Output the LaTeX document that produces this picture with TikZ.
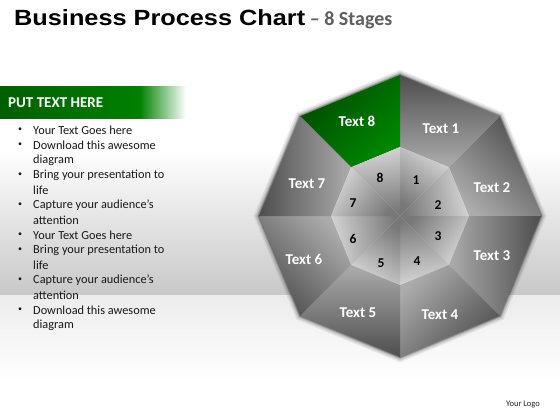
\documentclass[tikz,border=0pt]{standalone}
\usepackage{fontspec}
\setmainfont{Carlito}
\newfontfamily\arialfont{Liberation Sans}
\usepackage{graphicx}
\definecolor{gdark}{RGB}{78,78,78}
\definecolor{glight}{RGB}{172,172,172}
\definecolor{idark}{RGB}{120,120,120}
\definecolor{ilight}{RGB}{215,215,215}
\definecolor{grdark}{RGB}{0,75,0}
\definecolor{grlight}{RGB}{0,135,0}
\definecolor{bandgray}{RGB}{200,200,200}
\definecolor{floorgray}{RGB}{236,236,236}
\definecolor{bandark}{RGB}{0,95,0}
\definecolor{banlight}{RGB}{0,128,0}
\definecolor{subgray}{RGB}{95,95,95}
\tikzset{
  seclabel/.style={font=\bfseries\fontsize{15}{17}\selectfont, text=white, inner sep=0pt},
  numlabel/.style={font=\bfseries\fontsize{13.5}{15}\selectfont, text=black, inner sep=0pt},
  bodytext/.style={font=\fontsize{12.3}{14}\selectfont, anchor=west, inner sep=0pt, text=black!90},
  bulletmark/.style={font=\fontsize{8}{10}\selectfont, anchor=center, inner sep=0pt, text=black!90}
}
\begin{document}
\begin{tikzpicture}[x=1pt,y=-1pt]
\useasboundingbox (0,0) rectangle (560,420);
% background
\fill[white] (0,0) rectangle (560,420);
\shade[top color=white, bottom color=bandgray] (0,150) rectangle (560,295);
\shade[top color=floorgray, bottom color=white] (0,295) rectangle (560,380);
% title
\node[anchor=base west, inner sep=0pt] (title) at (14,26)
  {{\arialfont\bfseries\fontsize{22}{24}\selectfont\scalebox{1.15}[1]{Business Process Chart}}%
   {\bfseries\fontsize{20}{22}\selectfont\color{subgray}\ – 8 Stages}};
% banner
\shade[left color=bandark, right color=banlight] (0,87) rectangle (140,118);
\shade[left color=banlight, right color=white] (139.5,87) rectangle (186,118);
\node[anchor=west, inner sep=0pt, text=white, font=\bfseries\fontsize{15}{17}\selectfont] (banner) at (8,103) {PUT TEXT HERE};
% bullet list
\foreach \yy/\b/\t [count=\i] in {
  130/1/Your Text Goes here,
  145/1/Download this awesome,
  160/0/diagram,
  175/1/Bring your presentation to,
  190/0/life,
  205/1/Capture your audience’s,
  220/0/attention,
  235/1/Your Text Goes here,
  250/1/Bring your presentation to,
  265/0/life,
  280/1/Capture your audience’s,
  295/0/attention,
  310/1/Download this awesome,
  325/0/diagram}{
  \node[bodytext] (line\i) at (33,\yy) {\t};
  \ifnum\b=1 \node[bulletmark] (bul\i) at (20,\yy) {•};\fi
}
% octagon glow
\foreach \w/\o in {10/0.07,7/0.1,4/0.16,2/0.25}{
  \draw[black, line width=\w pt, opacity=\o, line join=miter]
    (400,75) -- (499.7,116.3) -- (541,216) -- (499.7,315.7) -- (400,357) -- (300.3,315.7) -- (259,216) -- (300.3,116.3) -- cycle;
}
% sectors
\foreach \k in {1,...,8}{
  \pgfmathsetmacro{\a}{90-45*(\k-1)}
  \pgfmathsetmacro{\bb}{\a-45}
  \pgfmathsetmacro{\sa}{\a-90}
  \pgfmathsetmacro{\sb}{\bb-80}
  \ifnum\k=8
    \shade[top color=grdark, bottom color=grlight, shading angle=\sa]
      ({400+141*cos(\a)},{216-141*sin(\a)}) -- ({400+141*cos(\bb)},{216-141*sin(\bb)})
      -- ({400+69*cos(\bb)},{216-69*sin(\bb)}) -- ({400+69*cos(\a)},{216-69*sin(\a)}) -- cycle;
  \else
    \shade[top color=gdark, bottom color=glight, shading angle=\sa]
      ({400+141*cos(\a)},{216-141*sin(\a)}) -- ({400+141*cos(\bb)},{216-141*sin(\bb)})
      -- ({400+69*cos(\bb)},{216-69*sin(\bb)}) -- ({400+69*cos(\a)},{216-69*sin(\a)}) -- cycle;
  \fi
  \shade[top color=ilight, bottom color=idark, shading angle=\sb]
    (400,216) -- ({400+69*cos(\a)},{216-69*sin(\a)}) -- ({400+69*cos(\bb)},{216-69*sin(\bb)}) -- cycle;
}
% sector labels
\node[seclabel] (t1) at (441,129) {Text 1};
\node[seclabel] (t2) at (492,188) {Text 2};
\node[seclabel] (t3) at (492,256) {Text 3};
\node[seclabel] (t4) at (440,315) {Text 4};
\node[seclabel] (t5) at (358,313) {Text 5};
\node[seclabel] (t6) at (304,259) {Text 6};
\node[seclabel] (t7) at (307,184) {Text 7};
\node[seclabel] (t8) at (357,121) {Text 8};
% numbers
\node[numlabel] (n1) at (416,180) {1};
\node[numlabel] (n2) at (438,205) {2};
\node[numlabel] (n3) at (438,236) {3};
\node[numlabel] (n4) at (417,261) {4};
\node[numlabel] (n5) at (381,263) {5};
\node[numlabel] (n6) at (353,239) {6};
\node[numlabel] (n7) at (353,203) {7};
\node[numlabel] (n8) at (380,178) {8};
% logo
\node[inner sep=0pt, font=\fontsize{8.5}{10}\selectfont, text=black!85] (logo) at (523,405) {Your Logo};
\end{tikzpicture}
\end{document}
